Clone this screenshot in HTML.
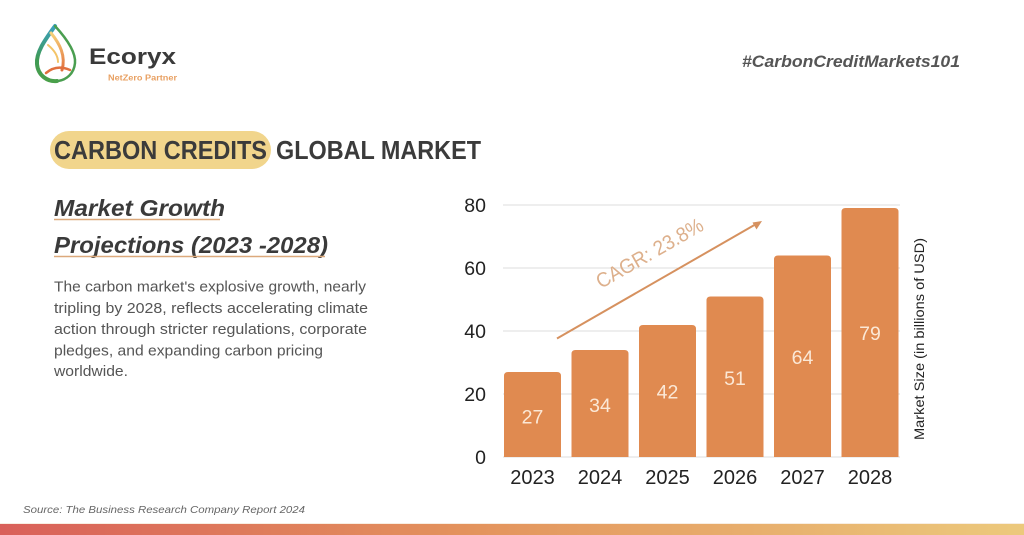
<!DOCTYPE html>
<html><head><meta charset="utf-8"><style>
html,body{margin:0;padding:0;background:#fff;}
svg{display:block;}
text{font-family:"Liberation Sans",sans-serif;}
</style></head><body>
<svg width="1024" height="535" viewBox="0 0 1024 535" xmlns="http://www.w3.org/2000/svg">
<defs>
<linearGradient id="bot" x1="0" x2="1" y1="0" y2="0">
<stop offset="0" stop-color="#d9605a"/><stop offset="0.45" stop-color="#e3925c"/><stop offset="1" stop-color="#ecc97c"/>
</linearGradient>
<linearGradient id="lg" x1="0" y1="0" x2="0" y2="1">
<stop offset="0" stop-color="#3aa0c0"/><stop offset="0.6" stop-color="#3f9a55"/><stop offset="1" stop-color="#4aa04a"/>
</linearGradient>
<linearGradient id="og" x1="0" y1="0" x2="0" y2="1">
<stop offset="0" stop-color="#f6d27a"/><stop offset="1" stop-color="#e2703e"/>
</linearGradient>
</defs>
<rect width="1024" height="535" fill="#ffffff"/>

<!-- logo -->
<path d="M55,26 C45,40 36,52 37,64 C38,76 48,82 57,81" fill="none" stroke="url(#lg)" stroke-width="4" stroke-linecap="round"/>
<path d="M55,26 C66,38 76,52 75,63 C74,74 66,80 58,81" fill="none" stroke="#4a9e50" stroke-width="2.5" stroke-linecap="round"/>
<path d="M51,33 C60,44 66,56 62,70" fill="none" stroke="url(#og)" stroke-width="3" stroke-linecap="round"/>
<path d="M48,45 C54,50 58,56 58,62" fill="none" stroke="#f3c467" stroke-width="2" stroke-linecap="round"/>
<path d="M46,73 C53,67 61,66 70,70" fill="none" stroke="#e0703e" stroke-width="2.5" stroke-linecap="round"/>
<text x="89" y="64" font-size="22" font-weight="bold" fill="#3a3a3a" textLength="87" lengthAdjust="spacingAndGlyphs">Ecoryx</text>
<text x="108" y="80.5" font-size="8" font-weight="bold" fill="#e8a062" textLength="69" lengthAdjust="spacingAndGlyphs">NetZero Partner</text>

<!-- hashtag -->
<text x="742" y="67" font-size="17" font-weight="bold" font-style="italic" fill="#555555" textLength="218" lengthAdjust="spacingAndGlyphs">#CarbonCreditMarkets101</text>

<!-- title -->
<rect x="50" y="131" width="221" height="38" rx="19" fill="#f1d58c"/>
<text x="54" y="159" font-size="26" font-weight="bold" fill="#3b3b3b" textLength="213" lengthAdjust="spacingAndGlyphs">CARBON CREDITS</text>
<text x="276" y="159" font-size="26" font-weight="bold" fill="#3b3b3b" textLength="205" lengthAdjust="spacingAndGlyphs">GLOBAL MARKET</text>

<!-- subtitle -->
<text x="54" y="216" font-size="23" font-weight="bold" font-style="italic" fill="#3a3a3a" textLength="171" lengthAdjust="spacingAndGlyphs">Market Growth</text>
<line x1="54" y1="219.5" x2="220" y2="219.5" stroke="#dca97c" stroke-width="1.5"/>
<text x="54" y="253" font-size="23" font-weight="bold" font-style="italic" fill="#3a3a3a" textLength="274" lengthAdjust="spacingAndGlyphs">Projections (2023 -2028)</text>
<line x1="54" y1="256.5" x2="325" y2="256.5" stroke="#dca97c" stroke-width="1.5"/>

<!-- paragraph -->
<g font-size="15" fill="#555555">
<text x="54" y="291.5" textLength="312" lengthAdjust="spacingAndGlyphs">The carbon market's explosive growth, nearly</text>
<text x="54" y="313" textLength="314" lengthAdjust="spacingAndGlyphs">tripling by 2028, reflects accelerating climate</text>
<text x="54" y="334" textLength="313" lengthAdjust="spacingAndGlyphs">action through stricter regulations, corporate</text>
<text x="54" y="355.5" textLength="269" lengthAdjust="spacingAndGlyphs">pledges, and expanding carbon pricing</text>
<text x="54" y="376" textLength="74" lengthAdjust="spacingAndGlyphs">worldwide.</text>
</g>

<!-- gridlines -->
<g stroke="#dddddd" stroke-width="1">
<line x1="503" y1="205" x2="900" y2="205"/>
<line x1="503" y1="268" x2="900" y2="268"/>
<line x1="503" y1="331" x2="900" y2="331"/>
<line x1="503" y1="394" x2="900" y2="394"/>
<line x1="503" y1="457" x2="900" y2="457"/>
</g>

<!-- y tick labels -->
<g font-size="19.5" fill="#222222" text-anchor="end">
<text x="486" y="212">80</text>
<text x="486" y="275">60</text>
<text x="486" y="338">40</text>
<text x="486" y="401">20</text>
<text x="486" y="464">0</text>
</g>

<!-- bars -->
<g fill="#e08a50">
<path d="M504,457 V376 Q504,372 508,372 H557 Q561,372 561,376 V457 Z"/>
<path d="M571.5,457 V354 Q571.5,350 575.5,350 H624.5 Q628.5,350 628.5,354 V457 Z"/>
<path d="M639,457 V329 Q639,325 643,325 H692 Q696,325 696,329 V457 Z"/>
<path d="M706.5,457 V300.5 Q706.5,296.5 710.5,296.5 H759.5 Q763.5,296.5 763.5,300.5 V457 Z"/>
<path d="M774,457 V259.5 Q774,255.5 778,255.5 H827 Q831,255.5 831,259.5 V457 Z"/>
<path d="M841.5,457 V212 Q841.5,208 845.5,208 H894.5 Q898.5,208 898.5,212 V457 Z"/>
</g>

<!-- bar labels -->
<g font-size="19.5" fill="#fbe8d6" text-anchor="middle">
<text x="532.5" y="423.5">27</text>
<text x="600" y="412">34</text>
<text x="667.5" y="398.5">42</text>
<text x="735" y="385">51</text>
<text x="802.5" y="364">64</text>
<text x="870" y="340">79</text>
</g>

<!-- x labels -->
<g font-size="20" fill="#222222" text-anchor="middle">
<text x="532.5" y="484">2023</text>
<text x="600" y="484">2024</text>
<text x="667.5" y="484">2025</text>
<text x="735" y="484">2026</text>
<text x="802.5" y="484">2027</text>
<text x="870" y="484">2028</text>
</g>

<!-- y axis title -->
<text transform="translate(924,339) rotate(-90)" font-size="14" fill="#222222" text-anchor="middle" textLength="202" lengthAdjust="spacingAndGlyphs">Market Size (in billions of USD)</text>

<!-- CAGR arrow -->
<line x1="557" y1="338.5" x2="757" y2="223.5" stroke="#d6915f" stroke-width="2"/>
<path d="M762,221 L752.5,222.5 L756.5,229.5 Z" fill="#d6915f"/>
<text transform="translate(601,289) rotate(-29.8)" font-size="20.5" fill="#ddb08c" textLength="120" lengthAdjust="spacingAndGlyphs">CAGR: 23.8%</text>

<!-- source -->
<text x="23" y="513" font-size="10.5" font-style="italic" fill="#666666" textLength="282" lengthAdjust="spacingAndGlyphs">Source: The Business Research Company Report 2024</text>

<!-- bottom bar -->
<rect x="0" y="524" width="1024" height="11" fill="url(#bot)"/>
<rect x="0" y="523" width="1024" height="1" fill="#f4e2cf" opacity="0.6"/>
</svg>
</body></html>
